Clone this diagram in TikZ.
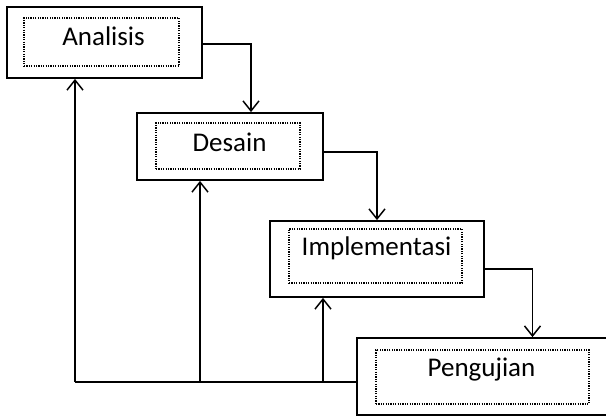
\documentclass[tikz,border=0pt]{standalone}
\usepackage{fontspec}
\setmainfont{Carlito}
\usetikzlibrary{arrows.meta}
\tikzset{
  outerbox/.style={draw, line width=1.8pt, inner sep=0pt, fill=white},
  innerbox/.style={draw, line width=1.4pt, dash pattern=on 1.2pt off 1.2pt, inner sep=0pt},
  lbl/.style={anchor=base, inner sep=0pt, font=\fontsize{27}{32}\selectfont},
  conn/.style={line width=1.5pt},
  arr/.style={conn, -{Straight Barb[length=10pt,width=16pt,line width=1.5pt]}}
}
\begin{document}
\begin{tikzpicture}[x=1pt,y=-1pt]
\useasboundingbox (0,0) rectangle (606,416);
\clip (0,0) rectangle (606,416);
% boxes
\node[outerbox, minimum width=195pt, minimum height=71pt] (ana) at (104.5,42.5) {};
\node[innerbox, minimum width=155pt, minimum height=48pt] (anai) at (101.5,42) {};
\node[lbl] (anat) at (103.5,45) {Analisis};

\node[outerbox, minimum width=186pt, minimum height=67pt] (des) at (230,146.5) {};
\node[innerbox, minimum width=144pt, minimum height=46pt] (desi) at (228,146) {};
\node[lbl] (dest) at (229.5,151) {Desain};

\node[outerbox, minimum width=214pt, minimum height=76pt] (imp) at (377,259) {};
\node[innerbox, minimum width=173pt, minimum height=54pt] (impi) at (375.5,256) {};
\node[lbl] (impt) at (376.5,255) {Implementasi};

\node[outerbox, minimum width=255pt, minimum height=77pt] (pen) at (484.5,376.5) {};
\node[innerbox, minimum width=213pt, minimum height=54pt] (peni) at (482.5,377) {};
\node[lbl] (pent) at (481.5,376) {Pengujian};

% forward connectors
\draw[arr] ([yshift=-1.5pt]ana.east) -| ([xshift=21pt]des.north);
\draw[arr] ([yshift=-5.5pt]des.east) -| (imp.north);
\draw[arr] ([yshift=-10pt]imp.east) -| ([xshift=48pt]pen.north);

% feedback
\coordinate (fb1) at (75,382);
\coordinate (fb2) at (200,382);
\coordinate (fb3) at (323,382);
\draw[conn] ([yshift=-5.5pt]pen.west) -- (fb1);
\draw[arr] (fb1) -- (fb1 |- ana.south);
\draw[arr] (fb2) -- (fb2 |- des.south);
\draw[arr] (fb3) -- (fb3 |- imp.south);
\end{tikzpicture}
\end{document}
